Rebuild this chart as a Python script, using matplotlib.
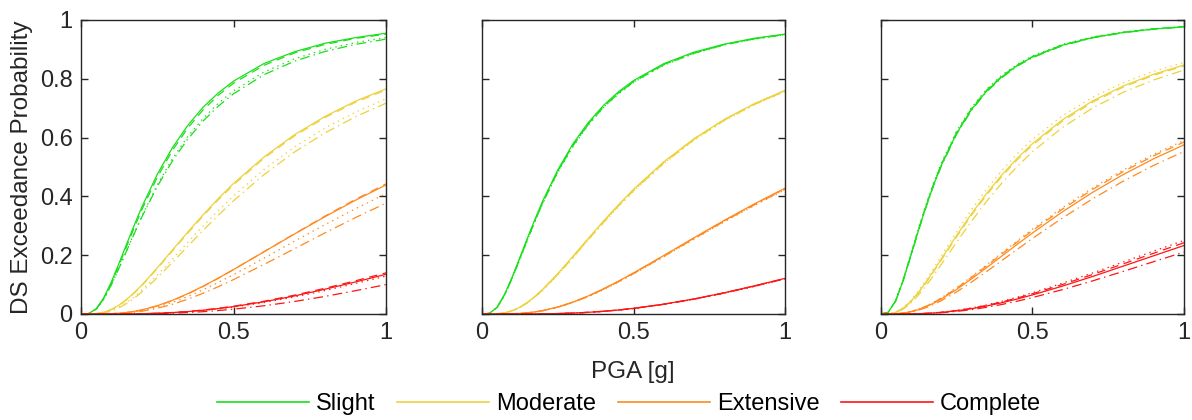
import matplotlib
matplotlib.use("Agg")
import matplotlib.pyplot as plt
from matplotlib.lines import Line2D

# ---------------- data ----------------
pga = [0, 0.025, 0.05, 0.075, 0.1, 0.125, 0.15, 0.175, 0.2, 0.25, 0.3, 0.35, 0.4, 0.45, 0.5, 0.6, 0.7, 0.8, 0.9, 1.0]

damage_states = ["Slight", "Moderate", "Extensive", "Complete"]
x_ticks = [0, 0.5, 1]
x_tick_labels = ["0", "0.5", "1"]
y_ticks = [0, 0.2, 0.4, 0.6, 0.8, 1.0]
y_tick_labels = ["0", "0.2", "0.4", "0.6", "0.8", "1"]

# Panel 1
p1_slight_solid = [0, .0014, .0178, .056, .110, .1733, .239, .3032, .365, .475, .566, .6413, .703, .7517, .792, .852, .892, .921, .940, .955]
p1_slight_dashed = [0, .0013, .0168, .0535, .106, .1672, .2315, .295, .356, .465, .557, .6324, .694, .744, .785, .846, .888, .917, .9375, .952]
p1_slight_dotted = [0, .0014, .016, .0505, .099, .1564, .2165, .2763, .334, .439, .529, .6034, .665, .7165, .759, .823, .868, .900, .9235, .9405]
p1_slight_dashdot = [0, .0015, .017, .052, .1005, .1568, .2157, .2743, .331, .434, .521, .5949, .656, .707, .749, .814, .860, .893, .917, .935]
p1_moderate_solid = [0, .0001, .0013, .006, .0156, .0306, .050, .0732, .099, .157, .218, .2787, .337, .3925, .444, .534, .610, .672, .724, .766]
p1_moderate_dashed = [0, .0001, .0012, .0058, .0152, .0297, .0487, .0715, .097, .154, .2145, .2748, .333, .3883, .439, .530, .6055, .668, .720, .762]
p1_moderate_dotted = [0, .0001, .0009, .0044, .0119, .0238, .0397, .0593, .0817, .1324, .187, .2436, .299, .3516, .4017, .4916, .568, .6327, .6865, .732]
p1_moderate_dashdot = [0, .0001, .0008, .0039, .0106, .0214, .036, .0543, .0752, .1233, .176, .2301, .284, .3357, .385, .474, .551, .616, .671, .717]
p1_extensive_solid = [0, 0, 0, .0003, .0011, .0027, .0053, .0091, .0142, .0281, .0466, .069, .0944, .122, .151, .2115, .272, .331, .387, .439]
p1_extensive_dashed = [0, 0, 0, .0003, .001, .0025, .005, .0087, .0136, .0273, .0457, .068, .0936, .1213, .151, .212, .273, .333, .390, .4425]
p1_extensive_dotted = [0, 0, 0, .0002, .0008, .0021, .0042, .0074, .0117, .0236, .0396, .0595, .0823, .1073, .134, .190, .2475, .304, .358, .409]
p1_extensive_dashdot = [0, 0, 0, .0002, .0006, .0016, .0033, .0059, .0094, .0194, .0331, .0503, .0705, .0928, .117, .1686, .222, .276, .328, .377]
p1_complete_solid = [0, 0, 0, 0, 0, .0001, .0003, .0006, .001, .0025, .0048, .0082, .0128, .0184, .0252, .0416, .0614, .0843, .109, .135]
p1_complete_dashed = [0, 0, 0, 0, 0, .0001, .0003, .0006, .0011, .0026, .0051, .0087, .0135, .0194, .0264, .0434, .064, .0875, .113, .140]
p1_complete_dotted = [0, 0, 0, 0, 0, .0001, .0002, .0005, .0009, .0022, .0044, .0076, .0118, .0171, .0235, .039, .058, .0797, .1037, .129]
p1_complete_dashdot = [0, 0, 0, 0, 0, 0, .0001, .0003, .0005, .0014, .0028, .005, .0079, .0117, .0163, .028, .0425, .0598, .0793, .100]

# Panel 2
p2_slight_solid = [0, .0023, .0234, .0677, .1265, .1922, .2585, .3228, .3836, .490, .5785, .6501, .7085, .7556, .794, .8515, .8907, .918, .938, .952]
p2_slight_dashed = [0, .0022, .0228, .0662, .124, .189, .255, .3187, .379, .486, .574, .6458, .705, .7518, .791, .849, .888, .9165, .9365, .951]
p2_slight_dotted = [0, .0021, .0222, .0648, .1218, .1859, .251, .3146, .3747, .481, .569, .6415, .7005, .748, .7875, .846, .886, .915, .935, .950]
p2_slight_dashdot = [0, .0022, .0225, .0655, .123, .1875, .253, .3166, .377, .484, .572, .6437, .703, .750, .789, .848, .887, .916, .936, .9505]
p2_moderate_solid = [0, 0, .0007, .004, .0112, .0232, .0396, .0599, .0835, .1374, .196, .2561, .315, .371, .424, .5176, .5965, .662, .716, .7605]
p2_moderate_dashed = [0, 0, .0007, .0039, .011, .0229, .039, .0594, .0825, .136, .194, .2548, .313, .3695, .422, .516, .595, .661, .715, .760]
p2_moderate_dotted = [0, 0, .0006, .0036, .0104, .0221, .0375, .0577, .080, .1325, .190, .2508, .308, .365, .417, .511, .591, .657, .712, .757]
p2_moderate_dashdot = [0, 0, .0006, .0037, .0107, .0225, .038, .0585, .081, .134, .192, .2525, .310, .367, .419, .513, .593, .659, .713, .758]
p2_extensive_solid = [0, 0, 0, .0002, .0008, .002, .0041, .0072, .0116, .0237, .0405, .0612, .0852, .1115, .1397, .199, .2594, .3188, .375, .428]
p2_extensive_dashed = [0, 0, 0, .0002, .0008, .002, .0040, .0071, .0114, .0233, .0400, .0606, .0845, .1106, .1388, .1980, .2583, .3176, .3738, .4268]
p2_extensive_dotted = [0, 0, 0, .0002, .0007, .0019, .0038, .0067, .0109, .0226, .0388, .0585, .0825, .1082, .1360, .1945, .2545, .3135, .3695, .4225]
p2_extensive_dashdot = [0, 0, 0, .0002, .0007, .0019, .0039, .0069, .0112, .0230, .0395, .0596, .0837, .1094, .1375, .1962, .2565, .3157, .3717, .4245]
p2_complete_solid = [0, 0, 0, 0, 0, 0, .0001, .0003, .0006, .0015, .0031, .0057, .0092, .0137, .0193, .0335, .0513, .0724, .096, .1212]
p2_complete_dashed = [0, 0, 0, 0, 0, 0, .0001, .0003, .0006, .0015, .0030, .0056, .0091, .0135, .0191, .0332, .0509, .0719, .0955, .1206]
p2_complete_dotted = [0, 0, 0, 0, 0, 0, .0001, .0003, .0005, .0014, .0029, .0053, .0088, .0131, .0186, .0325, .0500, .0707, .0940, .1190]
p2_complete_dashdot = [0, 0, 0, 0, 0, 0, .0001, .0003, .0005, .0014, .0030, .0055, .0090, .0133, .0188, .0328, .0504, .0713, .0948, .1198]

# Panel 3
p3_slight_solid = [0, .0053, .0445, .1152, .199, .2848, .3658, .4392, .505, .613, .696, .759, .807, .8445, .8737, .9144, .9405, .9576, .9693, .977]
p3_slight_dashed = [0, .0054, .0452, .1165, .2012, .2875, .3685, .442, .508, .616, .699, .7615, .809, .8462, .875, .9155, .9413, .9582, .9698, .9775]
p3_slight_dotted = [0, .0056, .0464, .119, .2047, .2916, .373, .4471, .5128, .621, .7027, .7651, .8127, .8492, .8776, .9175, .9427, .9594, .9706, .9783]
p3_slight_dashdot = [0, .0052, .0440, .1140, .1970, .2825, .3630, .4365, .502, .610, .693, .7565, .804, .8428, .8715, .9128, .9393, .9567, .9686, .9765]
p3_moderate_solid = [0, .0004, .0055, .0198, .043, .0734, .1086, .1467, .1864, .2657, .3413, .4107, .4733, .5292, .5789, .661, .7254, .7757, .8154, .847]
p3_moderate_dashed = [0, .0004, .0053, .0191, .0418, .0716, .1062, .1437, .183, .2614, .3365, .4056, .468, .524, .5738, .6562, .7208, .7718, .812, .8438]
p3_moderate_dotted = [0, .0004, .0061, .0216, .0466, .0788, .1159, .1556, .1968, .2783, .3553, .4255, .4885, .5443, .5936, .6747, .7379, .787, .8256, .8557]
p3_moderate_dashdot = [0, .0003, .0045, .0166, .037, .0641, .0961, .1312, .168, .2432, .3157, .3836, .4455, .5012, .5513, .635, .7013, .7543, .796, .8297]
p3_extensive_solid = [0, 0, .0007, .003, .0076, .0149, .0247, .0367, .0507, .083, .1194, .158, .1974, .2366, .275, .348, .4145, .4745, .528, .5753]
p3_extensive_dashed = [0, 0, .0007, .0032, .0082, .0159, .0262, .0388, .0534, .087, .1245, .1641, .2044, .2443, .2834, .3572, .4243, .4845, .538, .585]
p3_extensive_dotted = [0, 0, .0007, .0033, .0085, .0164, .027, .0399, .0548, .0891, .1273, .1675, .2084, .2486, .288, .3624, .4297, .490, .5434, .590]
p3_extensive_dashdot = [0, 0, .0005, .0025, .0065, .0129, .0216, .0324, .045, .0747, .1085, .1447, .182, .2194, .2565, .327, .3925, .452, .5055, .553]
p3_complete_solid = [0, 0, 0, .0001, .0004, .001, .002, .0034, .0053, .0106, .018, .0273, .0384, .0509, .0647, .095, .128, .163, .198, .233]
p3_complete_dashed = [0, 0, 0, .0001, .0005, .0011, .0022, .0037, .0058, .0115, .0194, .0293, .041, .0542, .0687, .1005, .1348, .1706, .2067, .2424]
p3_complete_dotted = [0, 0, 0, .0001, .0005, .0012, .0023, .004, .0062, .0123, .0206, .031, .0433, .0569, .072, .105, .140, .177, .214, .250]
p3_complete_dashdot = [0, 0, 0, 0, .0003, .0008, .0015, .0027, .0042, .0087, .0149, .0229, .0325, .0435, .0557, .083, .113, .145, .178, .2107]

panels = [
    [[p1_slight_solid, p1_slight_dashed, p1_slight_dotted, p1_slight_dashdot],
     [p1_moderate_solid, p1_moderate_dashed, p1_moderate_dotted, p1_moderate_dashdot],
     [p1_extensive_solid, p1_extensive_dashed, p1_extensive_dotted, p1_extensive_dashdot],
     [p1_complete_solid, p1_complete_dashed, p1_complete_dotted, p1_complete_dashdot]],
    [[p2_slight_solid, p2_slight_dashed, p2_slight_dotted, p2_slight_dashdot],
     [p2_moderate_solid, p2_moderate_dashed, p2_moderate_dotted, p2_moderate_dashdot],
     [p2_extensive_solid, p2_extensive_dashed, p2_extensive_dotted, p2_extensive_dashdot],
     [p2_complete_solid, p2_complete_dashed, p2_complete_dotted, p2_complete_dashdot]],
    [[p3_slight_solid, p3_slight_dashed, p3_slight_dotted, p3_slight_dashdot],
     [p3_moderate_solid, p3_moderate_dashed, p3_moderate_dotted, p3_moderate_dashdot],
     [p3_extensive_solid, p3_extensive_dashed, p3_extensive_dotted, p3_extensive_dashdot],
     [p3_complete_solid, p3_complete_dashed, p3_complete_dotted, p3_complete_dashdot]],
]

# ---------------- style ----------------
colors = ["#19E019", "#EDD23C", "#FF8A1E", "#FF1414"]
styles = ["-", (0, (6, 4)), (0, (1, 3)), (0, (7, 3, 1, 3))]
text_color = "#262626"

plt.rcParams["font.family"] = ["Liberation Sans", "DejaVu Sans"]
plt.rcParams["lines.scale_dashes"] = False

fig = plt.figure(figsize=(11.92, 4.2), dpi=100)
W, H = 1192.0, 420.0
axes_px = [(81, 386), (482, 785), (880.5, 1184)]
top_px, bot_px = 20, 314

for pi, (l, r) in enumerate(axes_px):
    ax = fig.add_axes([l / W, 1 - bot_px / H, (r - l) / W, (bot_px - top_px) / H])
    for di, series in enumerate(panels[pi]):
        for si, vals in enumerate(series):
            ax.plot(pga, vals, color=colors[di], linestyle=styles[si], lw=0.9)
    ax.set_xlim(0, 1)
    ax.set_ylim(0, 1)
    ax.set_xticks(x_ticks)
    ax.set_xticklabels(x_tick_labels)
    ax.set_yticks(y_ticks)
    if pi == 0:
        ax.set_yticklabels(y_tick_labels)
    else:
        ax.set_yticklabels([])
    ax.tick_params(direction="in", length=5, width=1, top=True, right=True,
                   labelsize=17, colors=text_color, pad=6)
    for sp in ax.spines.values():
        sp.set_color(text_color)
        sp.set_linewidth(1.0)

fig.text(22 / W, 1 - 167 / H, "DS Exceedance Probability", rotation=90,
         ha="center", va="center", fontsize=17.5, color=text_color)
fig.text(633 / W, 1 - 372 / H, "PGA [g]", ha="center", va="center",
         fontsize=17.5, color=text_color)

handles = [Line2D([0], [0], color=c, lw=1.2) for c in colors]
leg = fig.legend(handles, damage_states, loc="center", ncol=4, frameon=False,
                 bbox_to_anchor=(629 / W, 1 - 404 / H), fontsize=17,
                 handlelength=3.9, handletextpad=0.3, columnspacing=0.9,
                 borderpad=0.1)
for t in leg.get_texts():
    t.set_color("black")

fig.savefig("out.png", dpi=100)
